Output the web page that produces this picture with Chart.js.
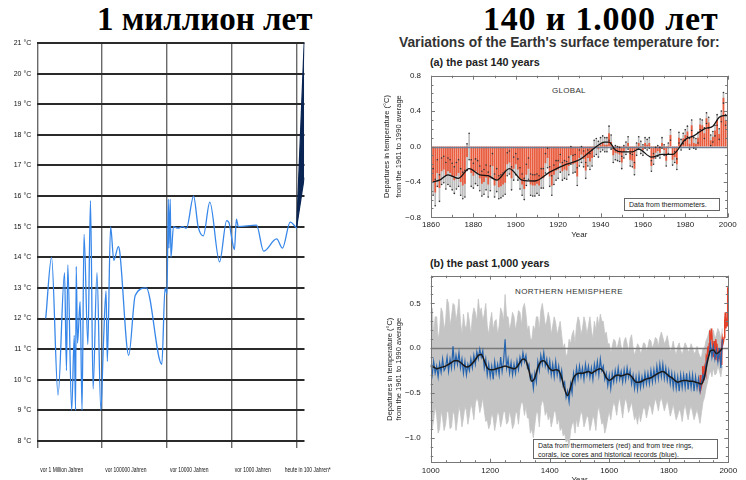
<!DOCTYPE html>
<html><head><meta charset="utf-8">
<script src="https://cdn.jsdelivr.net/npm/chart.js@4.4.1/dist/chart.umd.min.js"></script>
<style>
html,body{margin:0;padding:0;background:#fff;width:746px;height:480px;overflow:hidden;position:relative;font-family:'Liberation Sans',Arial,sans-serif;}
canvas{position:absolute;}
.t{position:absolute;white-space:nowrap;}
.big{font-family:'Liberation Serif','Times New Roman',serif;font-weight:bold;color:#000;top:1px;line-height:36px;}
.box{position:absolute;border:1px solid #666;font-size:7px;line-height:9px;color:#222;padding:1px 4px;box-sizing:border-box;}
</style></head><body>
<div class="t big" style="left:97px;font-size:33px;">1 миллион лет</div>
<div class="t big" style="left:483px;font-size:34px;letter-spacing:0.8px;">140 и 1.000 лет</div>
<div class="t" style="left:399px;top:35px;font-size:13.8px;font-weight:bold;color:#333;">Variations of the Earth's surface temperature for:</div>
<div class="t" style="left:430px;top:56px;font-size:10.8px;font-weight:bold;color:#222;">(a) the past 140 years</div>
<div class="t" style="left:430px;top:257px;font-size:10.8px;font-weight:bold;color:#222;">(b) the past 1,000 years</div>
<div class="t" style="left:552px;top:86px;font-size:8px;color:#333;letter-spacing:0.3px;">GLOBAL</div>
<div class="t" style="left:515px;top:287px;font-size:8px;color:#333;letter-spacing:0.4px;">NORTHERN HEMISPHERE</div>
<div class="box" style="left:624px;top:198px;width:96px;height:13px;line-height:10px;">Data from thermometers.</div>
<div class="box" style="left:533px;top:439px;width:185px;height:20px;">Data from thermometers (red) and from tree rings,<br>corals, ice cores and historical records (blue).</div>

<canvas id="cL" width="360" height="480" style="left:0;top:0;"></canvas>
<canvas id="cA" width="376" height="180" style="left:370px;top:60px;"></canvas>
<canvas id="cB" width="376" height="230" style="left:370px;top:255px;"></canvas>

<script>
// ---------- LEFT: 1 million years ----------
const L_CATS = ['vor 1 Million Jahren','vor 100000 Jahren','vor 10000 Jahren','vor 1000 Jahren','heute in 100 Jahren*'];
const L_X = [0.13,0.22,0.32,0.42,0.45,0.47,0.53,0.57,0.59,0.60,0.62,0.66,0.69,0.72,0.78,0.82,0.86,0.92,0.98,1.02,1.06,1.08,1.13,1.18,1.25,1.27,1.41,1.51,1.68,1.92,1.97,2.00,2.02,2.03,2.05,2.06,2.10,2.17,2.24,2.30,2.41,2.48,2.56,2.66,2.81,2.92,2.96,3.00,3.04,3.07,3.10,3.38,3.49,3.69,3.78,3.90,4.00];
const L_T = [12.0,14.0,9.5,13.5,10.3,13.75,9.0,11.45,9.0,13.7,11.2,12.55,9.0,14.75,11.15,15.85,9.7,13.5,9.0,11.2,12.9,10.6,15.0,13.9,14.35,14.2,10.8,12.75,13.0,10.5,13.0,12.8,15.9,14.3,15.9,14.0,15.0,14.95,15.0,14.95,16.0,15.0,14.7,15.8,13.85,15.2,15.1,14.6,14.25,15.25,15.0,15.05,14.2,14.6,14.3,15.15,14.95];
const W_X = [4.0, 4.115];
const W_UP = [15.0, 21.0];
const W_LO = [15.0, 16.6];

// ---------- RIGHT A: global, past 140 years ----------
const G_YEARS_START = 1861;
const GLOBAL = [
-0.40,-0.52,-0.30,-0.47,-0.28,-0.26,-0.33,-0.28,-0.30,-0.34,
-0.38,-0.33,-0.30,-0.40,-0.44,-0.42,-0.12,0.00,-0.30,-0.33,
-0.28,-0.30,-0.36,-0.42,-0.40,-0.35,-0.43,-0.36,-0.22,-0.44,
-0.38,-0.46,-0.45,-0.43,-0.41,-0.20,-0.18,-0.36,-0.25,-0.20,
-0.26,-0.36,-0.43,-0.48,-0.32,-0.25,-0.43,-0.44,-0.44,-0.42,
-0.44,-0.36,-0.36,-0.19,-0.13,-0.34,-0.44,-0.32,-0.27,-0.26,
-0.19,-0.28,-0.26,-0.27,-0.22,-0.10,-0.20,-0.19,-0.34,-0.13,
-0.09,-0.14,-0.27,-0.13,-0.17,-0.13,-0.02,0.00,-0.03,0.02,
0.04,0.02,0.02,0.15,0.05,-0.10,-0.07,-0.08,-0.09,-0.18,
-0.06,-0.02,0.04,-0.15,-0.16,-0.25,-0.03,0.04,-0.01,-0.04,
0.04,0.02,0.04,-0.22,-0.14,-0.07,-0.05,-0.07,0.04,-0.04,
-0.16,-0.02,0.13,-0.15,-0.12,-0.20,0.10,0.02,0.09,0.13,
0.17,0.03,0.24,0.04,0.03,0.10,0.25,0.24,0.15,0.32,
0.27,0.07,0.11,0.18,0.30,0.14,0.34,0.55,0.30,0.28];
const G_ERR_BY_DECADE = [0.15,0.15,0.14,0.13,0.12,0.11,0.10,0.09,0.08,0.07,0.06,0.06,0.06,0.06];
const G_SMOOTH_YEARS = [1861,1864,1868,1873,1878,1883,1887,1891,1897,1903,1909,1916,1924,1930,1936,1942,1944,1947,1950,1955,1958,1964,1969,1974,1980,1984,1989,1993,1996,1998,2000];
const G_SMOOTH = [-0.40,-0.38,-0.32,-0.36,-0.25,-0.32,-0.33,-0.38,-0.25,-0.38,-0.39,-0.29,-0.20,-0.15,-0.04,0.05,0.05,-0.04,-0.06,-0.06,-0.03,-0.12,-0.09,-0.09,0.08,0.12,0.20,0.23,0.33,0.35,0.35];

// ---------- RIGHT B: northern hemisphere, past 1000 years ----------
const NH_STEP5 = 5, NH_STEP10 = 10, NH_START = 1000;
const NH_BLUE = [
-0.18,-0.30,-0.15,-0.28,-0.20,-0.32,-0.17,-0.27,-0.12,-0.25,
-0.22,-0.10,-0.26,-0.12,-0.22,0.02,-0.20,-0.08,-0.18,-0.05,
-0.22,-0.12,-0.28,-0.15,-0.30,-0.18,-0.25,-0.12,-0.22,-0.08,
-0.18,-0.04,-0.12,-0.01,-0.10,-0.03,-0.22,-0.12,-0.30,-0.18,
-0.32,-0.20,-0.35,-0.15,-0.28,-0.18,-0.30,-0.10,-0.26,-0.14,
0.10,-0.22,-0.12,-0.28,-0.16,-0.30,-0.18,-0.28,-0.14,-0.24,
-0.10,-0.18,-0.05,-0.15,-0.08,-0.22,-0.18,-0.35,-0.30,-0.45,
-0.28,-0.38,-0.15,-0.25,-0.08,-0.18,-0.05,-0.20,-0.12,-0.25,
-0.14,-0.30,-0.18,-0.32,-0.15,-0.30,-0.20,-0.35,-0.25,-0.42,
-0.38,-0.55,-0.48,-0.60,-0.40,-0.50,-0.28,-0.38,-0.22,-0.34,
-0.20,-0.32,-0.22,-0.35,-0.18,-0.30,-0.20,-0.33,-0.22,-0.35,
-0.18,-0.28,-0.15,-0.30,-0.12,-0.25,-0.20,-0.35,-0.28,-0.42,
-0.30,-0.45,-0.28,-0.38,-0.25,-0.36,-0.22,-0.35,-0.26,-0.38,
-0.24,-0.36,-0.22,-0.33,-0.25,-0.40,-0.30,-0.45,-0.32,-0.46,
-0.30,-0.44,-0.32,-0.42,-0.28,-0.40,-0.28,-0.40,-0.25,-0.38,
-0.24,-0.36,-0.20,-0.34,-0.18,-0.32,-0.18,-0.34,-0.22,-0.36,
-0.25,-0.40,-0.28,-0.44,-0.30,-0.45,-0.32,-0.48,-0.30,-0.44,
-0.30,-0.44,-0.28,-0.46,-0.30,-0.44,-0.30,-0.48,-0.32,-0.45,
-0.34,-0.48,-0.38,-0.30,-0.34,-0.18,-0.12,-0.08,0.05,-0.10,
0.02,-0.12,-0.02,-0.15,0.00,-0.22,0.10];
const NH_SMOOTH = [
-0.20,-0.21,-0.23,-0.22,-0.21,-0.20,-0.18,-0.16,-0.14,-0.14,
-0.16,-0.19,-0.21,-0.20,-0.17,-0.13,-0.08,-0.07,-0.14,-0.22,
-0.24,-0.24,-0.23,-0.22,-0.21,-0.20,-0.21,-0.22,-0.23,-0.21,
-0.16,-0.12,-0.14,-0.25,-0.37,-0.33,-0.22,-0.15,-0.14,-0.18,
-0.23,-0.25,-0.24,-0.25,-0.33,-0.46,-0.53,-0.44,-0.33,-0.29,
-0.28,-0.28,-0.27,-0.26,-0.28,-0.26,-0.24,-0.23,-0.26,-0.33,
-0.36,-0.34,-0.31,-0.30,-0.31,-0.30,-0.29,-0.30,-0.34,-0.38,
-0.38,-0.37,-0.35,-0.34,-0.33,-0.31,-0.29,-0.27,-0.26,-0.28,
-0.31,-0.33,-0.36,-0.38,-0.37,-0.36,-0.36,-0.37,-0.37,-0.38,
-0.39,-0.40,-0.32,-0.15,-0.03,-0.02,-0.06,-0.04,0.00];
const NH_BAND_HI = [
0.25,0.45,0.15,0.35,0.35,0.10,0.20,0.45,0.40,0.20,
0.30,0.55,0.50,0.25,0.35,0.50,0.48,0.30,0.40,0.55,
0.30,0.15,0.38,0.25,0.22,0.40,0.30,0.15,0.35,0.45,
0.40,0.30,0.55,0.40,0.45,0.30,0.38,0.50,0.25,0.15,
0.30,0.40,0.20,0.30,0.32,0.15,0.25,0.45,0.40,0.30,
0.60,0.35,0.35,0.20,0.28,0.40,0.35,0.20,0.30,0.42,
0.40,0.25,0.45,0.50,0.38,0.20,0.25,0.10,0.10,0.25,
0.20,0.35,0.35,0.20,0.42,0.50,0.38,0.25,0.30,0.40,
0.32,0.15,0.25,0.35,0.28,0.15,0.22,0.30,0.15,0.00,
0.05,-0.10,-0.05,0.10,0.05,0.15,0.20,0.05,0.25,0.35,
0.30,0.15,0.22,0.35,0.28,0.15,0.25,0.35,0.20,0.10,
0.30,0.20,0.35,0.25,0.38,0.30,0.30,0.15,0.18,0.05,
0.05,-0.05,0.02,0.10,0.08,-0.02,0.05,0.12,0.02,-0.05,
0.08,0.12,0.05,-0.05,0.10,0.15,0.00,-0.08,-0.02,0.05,
0.02,-0.06,-0.02,0.06,0.05,-0.04,0.02,0.10,0.08,0.00,
0.05,0.12,0.10,0.02,0.12,0.18,0.12,0.05,0.08,0.14,
0.04,-0.04,0.00,0.08,-0.02,-0.08,0.02,0.06,-0.02,-0.08,
0.00,0.06,0.02,-0.04,-0.02,0.05,0.00,-0.06,-0.04,0.02,
-0.05,-0.10,-0.10,0.00,0.00,0.08,0.12,0.18,0.22,0.12,
0.20,0.10,0.15,0.22,0.18,0.10,0.22];
const NH_BAND_LO = [
-0.70,-0.90,-0.80,-0.65,-0.75,-0.95,-0.90,-0.70,-0.78,-0.92,
-0.85,-0.70,-0.72,-0.90,-0.88,-0.70,-0.75,-0.92,-0.80,-0.65,
-0.72,-0.88,-0.78,-0.65,-0.70,-0.85,-0.75,-0.62,-0.68,-0.80,
-0.62,-0.55,-0.60,-0.72,-0.65,-0.55,-0.70,-0.82,-0.80,-0.90,
-0.85,-0.72,-0.78,-0.92,-0.82,-0.70,-0.75,-0.88,-0.80,-0.70,
-0.72,-0.85,-0.82,-0.70,-0.78,-0.90,-0.85,-0.72,-0.72,-0.85,
-0.68,-0.60,-0.62,-0.75,-0.65,-0.78,-0.78,-0.95,-0.90,-1.00,
-0.85,-0.72,-0.72,-0.88,-0.65,-0.58,-0.62,-0.75,-0.70,-0.80,
-0.75,-0.88,-0.80,-0.70,-0.72,-0.85,-0.78,-0.92,-0.88,-0.98,
-0.95,-1.05,-1.02,-1.10,-0.92,-0.85,-0.82,-0.95,-0.78,-0.88,
-0.80,-0.70,-0.75,-0.88,-0.82,-0.75,-0.78,-0.92,-0.85,-0.75,
-0.80,-0.92,-0.72,-0.65,-0.75,-0.85,-0.82,-0.95,-0.88,-0.78,
-0.70,-0.80,-0.68,-0.60,-0.65,-0.75,-0.62,-0.55,-0.66,-0.78,
-0.64,-0.55,-0.62,-0.72,-0.66,-0.60,-0.70,-0.80,-0.75,-0.85,
-0.72,-0.82,-0.74,-0.66,-0.68,-0.78,-0.70,-0.62,-0.66,-0.74,
-0.64,-0.56,-0.62,-0.70,-0.60,-0.55,-0.62,-0.70,-0.64,-0.58,
-0.66,-0.76,-0.70,-0.62,-0.72,-0.80,-0.75,-0.68,-0.72,-0.82,
-0.70,-0.62,-0.72,-0.80,-0.70,-0.64,-0.72,-0.80,-0.74,-0.68,
-0.76,-0.84,-0.72,-0.60,-0.55,-0.45,-0.38,-0.30,-0.25,-0.32,
-0.22,-0.30,-0.28,-0.20,-0.25,-0.32,-0.20];
const NH_RED_START = 1902, NH_RED_STEP = 2;
const NH_RED = [
-0.40,-0.48,-0.30,-0.45,-0.42,-0.38,-0.20,-0.35,-0.32,-0.22,
-0.25,-0.28,-0.10,-0.12,-0.05,0.02,-0.05,0.05,0.20,0.10,
0.12,0.22,0.05,0.02,-0.10,0.08,-0.05,-0.12,0.10,0.02,
0.05,-0.15,-0.05,-0.08,0.00,-0.12,-0.05,-0.18,0.02,0.10,
0.05,0.08,0.12,0.30,0.40,0.22,0.30,0.25,0.68,0.55];

// ---------- helpers ----------
const SANS = "'Liberation Sans',Arial,sans-serif";
const fmt1 = v => (v < -1e-9 ? '\u2212' : '') + Math.abs(v).toFixed(1);
const xy = (xs, ys) => xs.map((x, i) => ({x, y: ys[i]}));
const series = (start, step, ys) => ys.map((y, i) => ({x: start + i * step, y}));

const framePlugin = {
  id: 'frameTicks',
  afterDatasetDraw(chart, args, o) {
    if (!o || !o.on || o.zeroAfter !== args.index) return;
    const {ctx, chartArea: a, scales: {y}} = chart;
    const p = Math.round(y.getPixelForValue(0)) + 0.5;
    ctx.save(); ctx.strokeStyle = o.zeroColor; ctx.lineWidth = o.zeroWidth;
    ctx.beginPath(); ctx.moveTo(a.left, p); ctx.lineTo(a.right, p); ctx.stroke(); ctx.restore();
  },
  afterDraw(chart, args, o) {
    if (!o || !o.on) return;
    const {ctx, chartArea: a, scales: {x, y}} = chart;
    ctx.save();
    ctx.strokeStyle = o.color; ctx.lineWidth = 1;
    ctx.strokeRect(Math.round(a.left) + 0.5, Math.round(a.top) + 0.5, Math.round(a.width) - 1, Math.round(a.height) - 1);
    ctx.beginPath();
    const nx = Math.round((x.max - x.min) / o.xStep);
    for (let k = 0; k <= nx; k++) {
      const v = x.min + k * o.xStep;
      const p = Math.round(x.getPixelForValue(v)) + 0.5;
      const L = (Math.abs(v / o.xMajor - Math.round(v / o.xMajor)) < 1e-6) ? o.lenMajor : o.len;
      ctx.moveTo(p, a.bottom); ctx.lineTo(p, a.bottom - L);
      ctx.moveTo(p, a.top); ctx.lineTo(p, a.top + L);
    }
    const y0 = Math.ceil(y.min / o.yStep - 1e-6);
    const y1 = Math.floor(y.max / o.yStep + 1e-6);
    for (let k = y0; k <= y1; k++) {
      const v = k * o.yStep;
      const p = Math.round(y.getPixelForValue(v)) + 0.5;
      const L = (Math.abs(v / o.yMajor - Math.round(v / o.yMajor)) < 1e-6) ? o.lenMajor : o.len;
      ctx.moveTo(a.left, p); ctx.lineTo(a.left + L, p);
      ctx.moveTo(a.right, p); ctx.lineTo(a.right - L, p);
    }
    ctx.stroke();
    ctx.restore();
  }
};

// condensed category labels under the left chart (drawn at the x scale's own tick positions)
const narrowLabels = {
  id: 'narrowLabels',
  afterDraw(chart, args, o) {
    if (!o || !o.on) return;
    const {ctx, scales: {x}, chartArea: a} = chart;
    ctx.save();
    ctx.fillStyle = '#111';
    ctx.font = '8px ' + SANS;
    ctx.textBaseline = 'middle';
    o.labels.forEach((lab, i) => {
      const px = x.getPixelForValue(i);
      const last = i === o.labels.length - 1;
      ctx.save();
      ctx.translate(last ? px + 11 : px + 3, a.bottom + 29);
      ctx.scale(o.squeeze, 1);
      ctx.textAlign = last ? 'center' : 'left';
      ctx.fillText(lab, 0, 0);
      ctx.restore();
    });
    ctx.restore();
  }
};

// ---------- LEFT chart ----------
new Chart(document.getElementById('cL'), {
  type: 'line',
  data: { datasets: [
    { data: xy(L_X, L_T), borderColor: '#3787ea', borderWidth: 1.3, pointRadius: 0, cubicInterpolationMode: 'monotone', fill: false, order: 2 },
    { data: xy(W_X, W_UP), borderColor: '#0a2553', borderWidth: 1.2, pointRadius: 0, fill: '+1', backgroundColor: '#0a2553', order: 1 },
    { data: xy(W_X, W_LO), borderColor: '#0a2553', borderWidth: 1.2, pointRadius: 0, fill: false, order: 1 }
  ]},
  plugins: [narrowLabels],
  options: {
    responsive: false, animation: false, devicePixelRatio: 1,
    layout: { padding: { top: 43, right: 55.5, bottom: 0, left: 0 } },
    plugins: { legend: { display: false }, tooltip: { enabled: false },
      narrowLabels: { on: true, labels: L_CATS, squeeze: 0.62 } },
    scales: {
      x: { type: 'linear', min: 0, max: 4.12,
        afterFit: s => { s.height = 39; s.paddingLeft = 0; s.paddingRight = 0; },
        border: { display: false },
        grid: { color: '#6a6a6a', lineWidth: 1.4, tickLength: 7, drawTicks: true },
        ticks: { stepSize: 1, includeBounds: false, autoSkip: false, maxRotation: 0, display: false } },
      y: { type: 'linear', min: 8, max: 21,
        afterFit: s => { s.width = 37.3; },
        border: { display: false },
        grid: { color: '#2a2a2a', lineWidth: 2, drawTicks: false },
        ticks: { stepSize: 1, includeBounds: false, padding: 6, color: '#111', font: { family: SANS, size: 7 },
          callback: v => v + ' \u00b0C' } }
    }
  }
});

// ---------- RIGHT A ----------
const gBars = GLOBAL.map((v, i) => ({x: G_YEARS_START + i, y: v}));
const gErr = GLOBAL.map((v, i) => { const e = G_ERR_BY_DECADE[Math.floor((G_YEARS_START + i - 1860) / 10)]; return {x: G_YEARS_START + i, y: [v - e, v + e]}; });
const gDots = [];
gErr.forEach(d => { gDots.push({x: d.x, y: d.y[0]}); gDots.push({x: d.x, y: d.y[1]}); });

new Chart(document.getElementById('cA'), {
  type: 'bar',
  data: { datasets: [
    { type: 'line', data: xy(G_SMOOTH_YEARS, G_SMOOTH), borderColor: '#151515', borderWidth: 1.3, pointRadius: 0, cubicInterpolationMode: 'monotone', order: 0 },
    { type: 'line', data: gDots, showLine: false, pointRadius: 0.8, pointBorderWidth: 0, pointBackgroundColor: '#333', order: 1 },
    { type: 'bar', data: gErr, backgroundColor: '#bcbcbc', barThickness: 1, grouped: false, order: 3 },
    { type: 'bar', data: gBars, backgroundColor: '#e95c3e', barPercentage: 1, categoryPercentage: 0.85, grouped: false, order: 2 }
  ]},
  plugins: [framePlugin],
  options: {
    responsive: false, animation: false, devicePixelRatio: 1,
    layout: { padding: { top: 15.7, right: 18.3, bottom: 0, left: 0 } },
    plugins: { legend: { display: false }, tooltip: { enabled: false },
      frameTicks: { on: true, color: '#777', xStep: 10, xMajor: 20, yStep: 0.1, yMajor: 0.4, len: 2.5, lenMajor: 4, zeroAfter: 3, zeroColor: '#6f7f95', zeroWidth: 1.5 } },
    scales: {
      x: { type: 'linear', min: 1860, max: 2000, offset: false,
        afterFit: s => { s.height = 22.7; },
        border: { display: false }, grid: { display: false, drawTicks: false },
        title: { display: true, text: 'Year', color: '#222', font: { family: SANS, size: 8 }, padding: { top: 0, bottom: 0 } },
        ticks: { stepSize: 20, maxRotation: 0, autoSkip: false, padding: 3, color: '#222', font: { family: SANS, size: 8 }, callback: v => String(v) } },
      y: { type: 'linear', min: -0.8, max: 0.8,
        afterFit: s => { s.width = 61; },
        border: { display: false }, grid: { display: false, drawTicks: false },
        title: { display: true, text: ['Departures in temperature (\u00b0C)', 'from the 1961 to 1990 average'], color: '#222',
          font: { family: SANS, size: 7.5, lineHeight: 1.55 }, padding: { top: 11, bottom: 0 } },
        ticks: { stepSize: 0.4, padding: 10, color: '#222', font: { family: SANS, size: 8 }, callback: fmt1 } }
    }
  }
});

// ---------- RIGHT B ----------
new Chart(document.getElementById('cB'), {
  type: 'line',
  data: { datasets: [
    { data: series(NH_START, NH_STEP5, NH_BAND_HI), borderColor: '#c4c4c4', backgroundColor: '#c4c4c4', borderWidth: 0.8, pointRadius: 0, fill: '+1', order: 4 },
    { data: series(NH_START, NH_STEP5, NH_BAND_LO), borderColor: '#c4c4c4', borderWidth: 0.8, pointRadius: 0, fill: false, order: 3 },
    { data: series(NH_RED_START, NH_RED_STEP, NH_RED), borderColor: '#e5402a', borderWidth: 1.5, pointRadius: 0, fill: false, order: 2 },
    { data: series(NH_START, NH_STEP5, NH_BLUE), borderColor: '#2563ad', borderWidth: 1.2, pointRadius: 0, fill: false, order: 1 },
    { data: series(NH_START, NH_STEP10, NH_SMOOTH), borderColor: '#1a1a1a', borderWidth: 1.5, pointRadius: 0, fill: false, cubicInterpolationMode: 'monotone', order: 0 }
  ]},
  plugins: [framePlugin],
  options: {
    responsive: false, animation: false, devicePixelRatio: 1,
    layout: { padding: { top: 20.7, right: 17.7, bottom: 0, left: 0 } },
    plugins: { legend: { display: false }, tooltip: { enabled: false },
      frameTicks: { on: true, color: '#777', xStep: 50, xMajor: 200, yStep: 0.1, yMajor: 0.5, len: 2.5, lenMajor: 4, zeroAfter: 1, zeroColor: '#7a7a7a', zeroWidth: 1.5 } },
    scales: {
      x: { type: 'linear', min: 1000, max: 2000,
        afterFit: s => { s.height = 22.3; },
        border: { display: false }, grid: { display: false, drawTicks: false },
        title: { display: true, text: 'Year', color: '#222', font: { family: SANS, size: 8 }, padding: { top: 0, bottom: 0 } },
        ticks: { stepSize: 200, maxRotation: 0, autoSkip: false, padding: 3, color: '#222', font: { family: SANS, size: 8 }, callback: v => String(v) } },
      y: { type: 'linear', min: -1.28, max: 0.81,
        afterFit: s => { s.width = 60.7; },
        border: { display: false }, grid: { display: false, drawTicks: false },
        title: { display: true, text: ['Departures in temperature (\u00b0C)', 'from the 1961 to 1990 average'], color: '#222',
          font: { family: SANS, size: 7.5, lineHeight: 1.2 }, padding: { top: 15, bottom: 0 } },
        ticks: { stepSize: 0.5, includeBounds: false, padding: 10, color: '#222', font: { family: SANS, size: 8 }, callback: fmt1 } }
    }
  }
});
</script>
</body></html>
